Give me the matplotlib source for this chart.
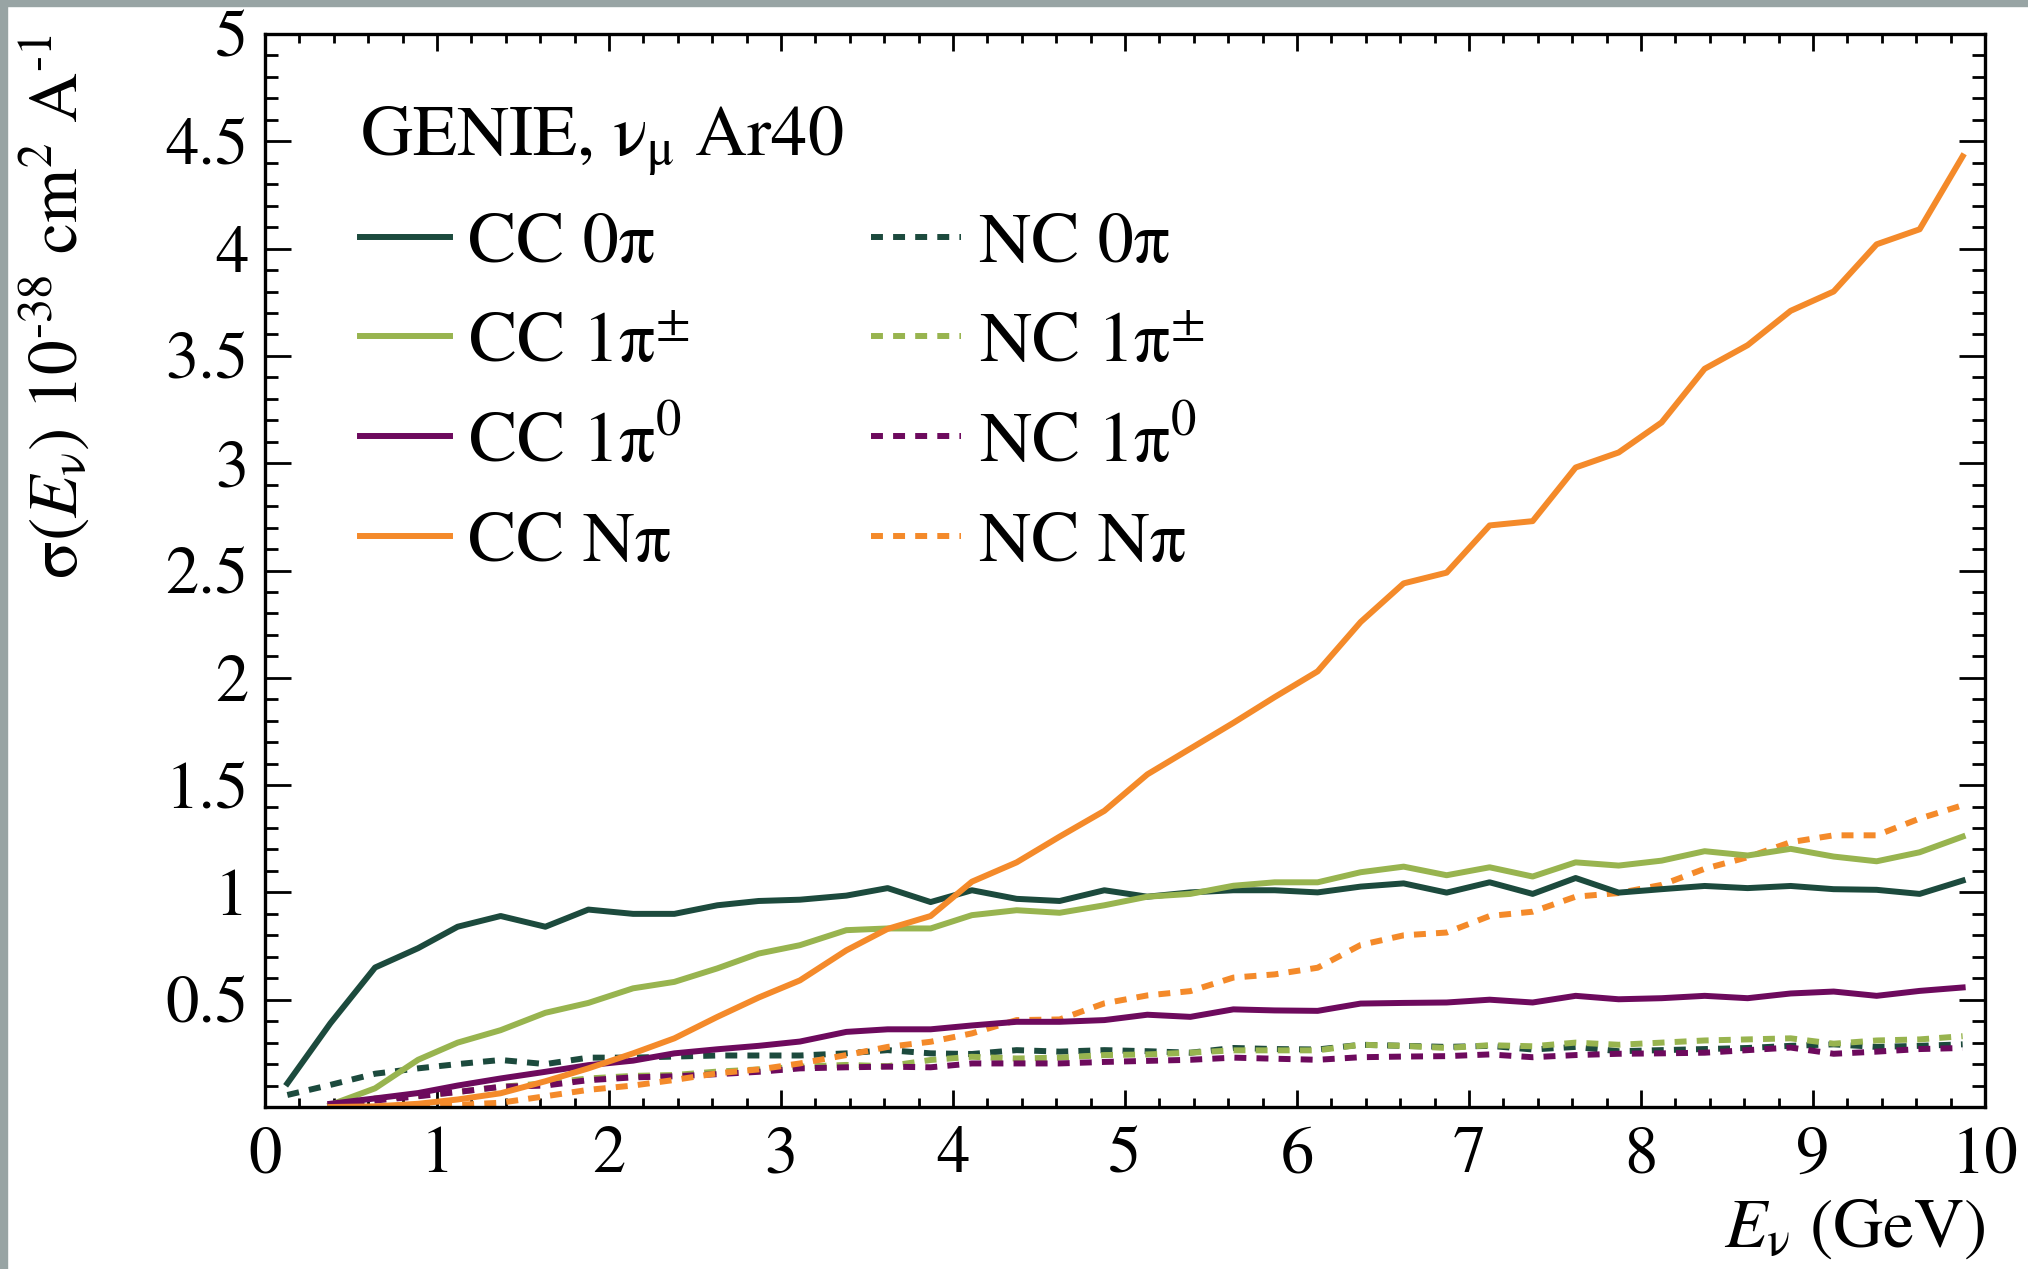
import numpy as np
import matplotlib
matplotlib.use("Agg")
import matplotlib.pyplot as plt
from matplotlib.lines import Line2D
from matplotlib.patches import Rectangle
from matplotlib.ticker import MultipleLocator

plt.rcParams['font.family'] = ['STIXGeneral', 'DejaVu Serif']
plt.rcParams['mathtext.fontset'] = 'stix'

nan = np.nan

# neutrino energy grid (GeV)
energy = [0.13, 0.38, 0.64, 0.89, 1.12, 1.37, 1.63, 1.88, 2.14, 2.38,
          2.63, 2.87, 3.11, 3.38, 3.62, 3.87, 4.11, 4.37, 4.62, 4.88,
          5.13, 5.38, 5.63, 5.87, 6.12, 6.37, 6.62, 6.87, 7.12, 7.37,
          7.62, 7.87, 8.12, 8.37, 8.62, 8.87, 9.12, 9.37, 9.62, 9.87]

# cross sections, 10^-38 cm^2 per nucleon
cc_0pi = [0.11, 0.39, 0.65, 0.74, 0.84, 0.89, 0.84, 0.92, 0.90, 0.90,
          0.94, 0.96, 0.966, 0.985, 1.02, 0.955, 1.01, 0.97, 0.96, 1.01,
          0.98, 1.00, 1.01, 1.01, 1.00, 1.027, 1.042, 0.999, 1.047, 0.993,
          1.067, 0.999, 1.015, 1.03, 1.02, 1.03, 1.015, 1.012, 0.993, 1.055]
cc_1pipm = [nan, 0.01, 0.087, 0.22, 0.30, 0.358, 0.439, 0.485, 0.553, 0.583,
            0.646, 0.715, 0.754, 0.824, 0.832, 0.832, 0.894, 0.917, 0.905, 0.94,
            0.98, 0.993, 1.031, 1.047, 1.047, 1.094, 1.12, 1.08, 1.117, 1.074,
            1.14, 1.125, 1.148, 1.192, 1.172, 1.203, 1.167, 1.145, 1.187, 1.26]
cc_1pi0 = [nan, 0.015, 0.04, 0.065, 0.10, 0.133, 0.164, 0.195, 0.216, 0.25,
           0.269, 0.285, 0.305, 0.35, 0.362, 0.362, 0.38, 0.397, 0.397, 0.405,
           0.43, 0.42, 0.455, 0.45, 0.448, 0.482, 0.485, 0.487, 0.50, 0.487,
           0.518, 0.502, 0.507, 0.518, 0.507, 0.529, 0.538, 0.518, 0.541, 0.557]
cc_npi = [nan, 0.0, 0.003, 0.015, 0.035, 0.064, 0.12, 0.18, 0.25, 0.32,
          0.42, 0.51, 0.59, 0.73, 0.83, 0.89, 1.05, 1.14, 1.26, 1.38,
          1.55, 1.67, 1.79, 1.91, 2.03, 2.26, 2.44, 2.49, 2.71, 2.73,
          2.98, 3.05, 3.19, 3.44, 3.55, 3.71, 3.80, 4.02, 4.09, 4.43]
nc_0pi = [0.056, 0.103, 0.155, 0.18, 0.20, 0.219, 0.20, 0.23, 0.23, 0.235,
          0.24, 0.24, 0.24, 0.25, 0.265, 0.25, 0.247, 0.265, 0.258, 0.265,
          0.26, 0.253, 0.275, 0.27, 0.268, 0.29, 0.285, 0.28, 0.285, 0.268,
          0.28, 0.26, 0.265, 0.27, 0.275, 0.285, 0.292, 0.28, 0.285, 0.292]
nc_1pipm = [nan, 0.005, 0.04, 0.052, 0.07, 0.094, 0.11, 0.133, 0.145, 0.149,
            0.165, 0.175, 0.188, 0.196, 0.19, 0.219, 0.234, 0.226, 0.23, 0.242,
            0.245, 0.253, 0.264, 0.264, 0.264, 0.29, 0.285, 0.275, 0.288, 0.283,
            0.30, 0.29, 0.30, 0.31, 0.315, 0.32, 0.295, 0.31, 0.315, 0.33]
nc_1pi0 = [nan, 0.012, 0.03, 0.05, 0.07, 0.094, 0.10, 0.125, 0.138, 0.143,
           0.153, 0.164, 0.18, 0.185, 0.188, 0.185, 0.203, 0.203, 0.203, 0.21,
           0.215, 0.22, 0.23, 0.225, 0.22, 0.232, 0.235, 0.237, 0.245, 0.232,
           0.242, 0.248, 0.25, 0.253, 0.265, 0.277, 0.248, 0.258, 0.27, 0.275]
nc_npi = [nan, nan, nan, 0.0, 0.01, 0.02, 0.05, 0.08, 0.10, 0.126,
          0.157, 0.175, 0.203, 0.242, 0.28, 0.304, 0.343, 0.405, 0.408, 0.483,
          0.52, 0.54, 0.603, 0.618, 0.649, 0.755, 0.80, 0.813, 0.89, 0.91,
          0.98, 0.997, 1.035, 1.11, 1.164, 1.234, 1.266, 1.266, 1.344, 1.406]

labels_cc = ["CC 0π", "CC 1π$^{\\pm}$", "CC 1π$^{0}$", "CC Nπ"]
labels_nc = ["NC 0π", "NC 1π$^{\\pm}$", "NC 1π$^{0}$", "NC Nπ"]
colors = ["#1c4a3d", "#98b44f", "#6d0a5d", "#f48a2a"]

yticks = [0, 0.5, 1, 1.5, 2, 2.5, 3, 3.5, 4, 4.5, 5]
ytick_labels = ["", "0.5", "1", "1.5", "2", "2.5", "3", "3.5", "4", "4.5", "5"]
xticks = [0, 1, 2, 3, 4, 5, 6, 7, 8, 9, 10]

fig = plt.figure(figsize=(20.28, 12.69), dpi=100)
# grey frame on top and left edge
fig.patches.append(Rectangle((0, 1 - 6 / 1269), 1, 6 / 1269, transform=fig.transFigure,
                             color="#98a4a4", zorder=0))
fig.patches.append(Rectangle((0, 0), 7 / 2028, 1, transform=fig.transFigure,
                             color="#98a4a4", zorder=0))

ax = fig.add_axes([265 / 2028, 1 - 1107 / 1269, 1720 / 2028, 1073 / 1269])

lw = 4.3
dash = (0, (2.0, 1.7))
cc_series = [cc_0pi, cc_1pipm, cc_1pi0, cc_npi]
nc_series = [nc_0pi, nc_1pipm, nc_1pi0, nc_npi]
for ys, c in zip(nc_series, colors):
    ax.plot(energy, ys, color=c, lw=lw, linestyle=dash, dash_joinstyle="round")
for ys, c in zip(cc_series, colors):
    ax.plot(energy, ys, color=c, lw=lw, solid_joinstyle="round")

ax.set_xlim(0, 10)
ax.set_ylim(0, 5)
ax.set_xticks(xticks)
ax.set_yticks(yticks)
ax.set_yticklabels(ytick_labels)
ax.xaxis.set_minor_locator(MultipleLocator(0.2))
ax.yaxis.set_minor_locator(MultipleLocator(0.1))

for s in ax.spines.values():
    s.set_linewidth(2.4)
ax.tick_params(which="both", direction="in", top=True, right=True, width=2)
ax.tick_params(axis="x", which="major", length=12, labelsize=48, pad=14)
ax.tick_params(axis="x", which="minor", length=6.5)
ax.tick_params(axis="y", which="major", length=18.5, labelsize=48, pad=12)
ax.tick_params(axis="y", which="minor", length=9.4)

ax.set_xlabel("$\\mathit{E}_{\\mathrm{ν}}$ (GeV)", fontsize=50, loc="right", labelpad=8)
ax.set_ylabel("σ($\\mathit{E}_{\\mathrm{ν}}$) 10$^{\u2010 38}$ cm$^{2}$ A$^{\u20101}$",
              fontsize=50, loc="top")
ax.yaxis.set_label_coords(-0.10, 1.0)

handles = [Line2D([], [], color=c, lw=lw) for c in colors]
handles += [Line2D([], [], color=c, lw=lw, linestyle=dash) for c in colors]
leg = ax.legend(handles, labels_cc + labels_nc, ncol=2, loc="upper left",
                bbox_to_anchor=(0.055, 0.935), frameon=False, fontsize=52,
                title="GENIE, $\\mathrm{ν}_{\\mathrm{μ}}$ Ar40", title_fontsize=52,
                alignment="left", borderpad=0, handlelength=1.25,
                handletextpad=0.25, columnspacing=2.5, labelspacing=0.46,
                borderaxespad=0)

fig.savefig("out.png", dpi=100)
